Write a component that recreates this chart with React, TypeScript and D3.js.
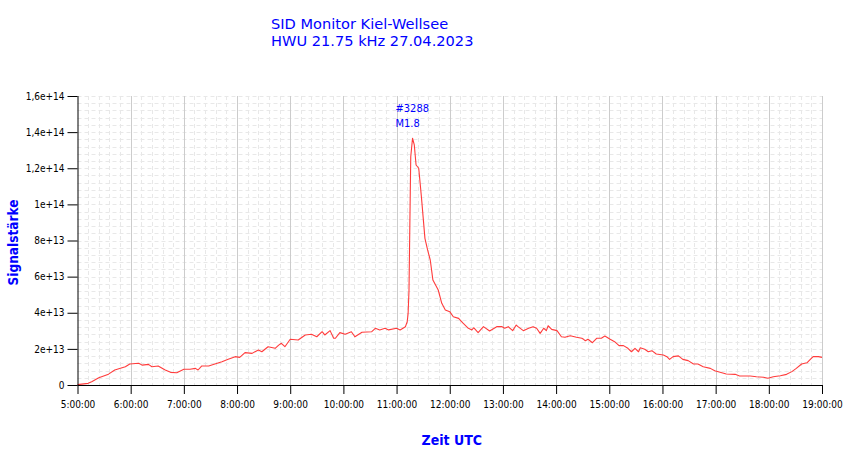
import React, { useEffect, useRef } from "react";
import * as d3 from "d3";

const DAY = "2023-04-27";
const titleLines = ["SID Monitor Kiel-Wellsee", "HWU 21.75 kHz 27.04.2023"];
const xAxisTitle = "Zeit UTC";
const yAxisTitle = "Signalstärke";
const flareLabel = ["#3288", "M1.8"];
const flareTime = "11:18";
const timeDomain = ["5:00", "19:00"];
const yMax = 1.6e14;
const yTickValues = [0, 2e13, 4e13, 6e13, 8e13, 1e14, 1.2e14, 1.4e14, 1.6e14];
const yTickLabels = ["0", "2e+13", "4e+13", "6e+13", "8e+13", "1e+14", "1,2e+14", "1,4e+14", "1,6e+14"];
const yMinorStep = 4e12;
const UNIT = 1e13;

const times = [
  "5:00", "5:12", "5:16", "5:24", "5:35", "5:42", "5:54", "5:59", "6:09", "6:13",
  "6:20", "6:24", "6:31", "6:39", "6:45", "6:52", "7:00", "7:07", "7:13", "7:16",
  "7:20", "7:28", "7:35", "7:43", "7:50", "7:58", "8:03", "8:09", "8:17", "8:24",
  "8:28", "8:35", "8:43", "8:47", "8:50", "8:54", "9:00", "9:09", "9:17", "9:24",
  "9:30", "9:36", "9:39", "9:45", "9:49", "9:51", "9:56", "10:02", "10:09", "10:13",
  "10:21", "10:32", "10:36", "10:41", "10:47", "10:51", "11:00", "11:04", "11:10", "11:12",
  "11:13", "11:14", "11:15", "11:16", "11:18", "11:20", "11:22", "11:25", "11:28", "11:32",
  "11:35", "11:38", "11:41", "11:47", "11:51", "11:55", "12:00", "12:04", "12:10", "12:15",
  "12:21", "12:25", "12:27", "12:32", "12:38", "12:45", "12:53", "12:59", "13:02", "13:06",
  "13:11", "13:15", "13:17", "13:23", "13:29", "13:34", "13:38", "13:42", "13:46", "13:49",
  "13:51", "13:55", "14:01", "14:06", "14:10", "14:16", "14:23", "14:29", "14:31", "14:33",
  "14:36", "14:41", "14:46", "14:51", "14:55", "15:01", "15:06", "15:11", "15:16", "15:21",
  "15:25", "15:29", "15:33", "15:35", "15:40", "15:44", "15:48", "15:53", "16:01", "16:05",
  "16:08", "16:12", "16:18", "16:23", "16:29", "16:35", "16:40", "16:46", "16:54", "16:59",
  "17:07", "17:12", "17:22", "17:27", "17:39", "17:46", "17:54", "17:59", "18:05", "18:13",
  "18:20", "18:26", "18:31", "18:37", "18:43", "18:46", "18:50", "18:56", "19:00",
];

const signalE13 = [
  0.02, 0.09, 0.18, 0.4, 0.6, 0.83, 1.01, 1.16, 1.2, 1.1,
  1.14, 1.01, 1.05, 0.83, 0.7, 0.68, 0.87, 0.87, 0.92, 0.83,
  1.05, 1.05, 1.16, 1.29, 1.42, 1.57, 1.53, 1.79, 1.75, 1.94,
  1.84, 2.12, 2.03, 2.21, 2.31, 2.12, 2.53, 2.49, 2.77, 2.81,
  2.67, 2.95, 2.77, 3.01, 2.59, 2.59, 2.9, 2.81, 2.95, 2.67,
  2.92, 2.95, 3.14, 3.05, 3.14, 3.05, 3.14, 3.05, 3.23, 3.5,
  3.95, 5.2, 8.95, 12.64, 13.66, 13.29, 12.18, 12.0, 10.43, 8.12,
  7.48, 6.92, 5.81, 5.26, 4.52, 4.15, 4.06, 3.78, 3.69, 3.42,
  3.14, 3.05, 3.17, 2.9, 3.23, 2.99, 3.23, 3.23, 3.14, 3.23,
  3.01, 3.32, 3.23, 3.01, 3.14, 3.23, 3.14, 2.86, 3.14, 3.01,
  3.28, 3.08, 3.01, 2.67, 2.64, 2.73, 2.64, 2.59, 2.53, 2.45,
  2.53, 2.34, 2.59, 2.59, 2.71, 2.53, 2.4, 2.18, 2.18, 2.03,
  1.84, 2.03, 1.84, 2.06, 1.98, 1.84, 1.9, 1.72, 1.66, 1.57,
  1.42, 1.57, 1.61, 1.42, 1.35, 1.16, 1.16, 1.01, 0.92, 0.79,
  0.68, 0.61, 0.59, 0.5, 0.5, 0.46, 0.43, 0.37, 0.46, 0.51,
  0.59, 0.74, 0.92, 1.16, 1.23, 1.38, 1.57, 1.57, 1.53,
];

const W = 850;
const H = 459;
const M = { left: 77.5, right: 28, top: 96, bottom: 74 };
const BLUE = "#0000ff";
const FONT = "'DejaVu Sans Condensed', 'DejaVu Sans', sans-serif";
const TITLE_FONT = "'DejaVu Sans', sans-serif";

const parse = (t: string) => d3.utcParse("%Y-%m-%d %H:%M")(`${DAY} ${t}`) as Date;

export default function App() {
  const ref = useRef<SVGSVGElement | null>(null);

  useEffect(() => {
    const svg = d3.select(ref.current);
    svg.selectAll("*").remove();

    const x = d3
      .scaleUtc()
      .domain(timeDomain.map(parse))
      .range([M.left, W - M.right]);
    const y = d3.scaleLinear().domain([0, yMax]).range([H - M.bottom, M.top]);

    const data = times.map((t, i) => ({ t: parse(t), v: signalE13[i] * UNIT }));

    const majorX = x.ticks(d3.utcHour.every(1) as d3.TimeInterval);
    const minorX = x.ticks(d3.utcMinute.every(12) as d3.TimeInterval);
    const minorY = d3.range(0, yMax + 1, yMinorStep);

    const grid = svg.append("g");
    grid
      .selectAll("line.hy")
      .data(minorY.filter((v) => v > 0))
      .join("line")
      .attr("x1", M.left)
      .attr("x2", W - M.right)
      .attr("y1", (d) => Math.round(y(d)) + 0.5)
      .attr("y2", (d) => Math.round(y(d)) + 0.5)
      .attr("stroke", "#e8e8e8")
      .attr("stroke-dasharray", "4,3");
    grid
      .selectAll("line.vx")
      .data(minorX.filter((d) => d.getUTCMinutes() !== 0))
      .join("line")
      .attr("x1", (d) => Math.round(x(d)) + 0.5)
      .attr("x2", (d) => Math.round(x(d)) + 0.5)
      .attr("y1", M.top)
      .attr("y2", H - M.bottom)
      .attr("stroke", "#e8e8e8")
      .attr("stroke-dasharray", "4,3");
    grid
      .selectAll("line.mx")
      .data(majorX.slice(1))
      .join("line")
      .attr("x1", (d) => Math.round(x(d)) + 0.5)
      .attr("x2", (d) => Math.round(x(d)) + 0.5)
      .attr("y1", M.top)
      .attr("y2", H - M.bottom)
      .attr("stroke", "#cccccc");

    // line
    const line = d3
      .line<{ t: Date; v: number }>()
      .x((d) => x(d.t))
      .y((d) => y(d.v));
    svg
      .append("path")
      .datum(data)
      .attr("d", line)
      .attr("fill", "none")
      .attr("stroke", "#ff3c3c")
      .attr("stroke-width", 1.1)
      .attr("stroke-linejoin", "round");

    // x axis
    const gx = svg.append("g").attr("transform", `translate(0,${H - M.bottom})`);
    gx.call(
      d3
        .axisBottom(x)
        .tickValues(minorX)
        .tickSize(5)
        .tickFormat(() => "")
    );
    gx.call(
      d3
        .axisBottom(x)
        .tickValues(majorX)
        .tickSize(9)
        .tickPadding(7)
        .tickFormat((d) => d3.utcFormat("%-H:%M:%S")(d as Date))
    );
    gx.selectAll("path.domain").attr("stroke", "#000").attr("d", `M${M.left},0.5H${W - M.right}`);
    gx.selectAll("line").attr("stroke", "#000");
    gx.selectAll("text").attr("font-family", FONT).attr("font-size", 10).attr("fill", "#000");

    // y axis
    const gy = svg.append("g").attr("transform", `translate(${M.left},0)`);
    gy.call(d3.axisLeft(y).tickValues(minorY).tickSize(6).tickFormat(() => ""));
    gy.call(
      d3
        .axisLeft(y)
        .tickValues(yTickValues)
        .tickSize(10)
        .tickPadding(3)
        .tickFormat((_, i) => yTickLabels[i])
    );
    gy.selectAll("path.domain").attr("stroke", "#000").attr("d", `M0.5,${M.top}V${H - M.bottom}`);
    gy.selectAll("line").attr("stroke", "#000");
    gy.selectAll("text").attr("font-family", FONT).attr("font-size", 10).attr("fill", "#000");

    // titles
    titleLines.forEach((t, i) => {
      svg
        .append("text")
        .attr("x", 271)
        .attr("y", 29 + i * 17)
        .attr("font-family", TITLE_FONT)
        .attr("font-size", 14.6)
        .attr("fill", BLUE)
        .text(t);
    });
    svg
      .append("text")
      .attr("x", (M.left + W - M.right) / 2 + 2)
      .attr("y", 445)
      .attr("text-anchor", "middle")
      .attr("font-family", FONT)
      .attr("font-weight", "bold")
      .attr("font-size", 14)
      .attr("fill", BLUE)
      .text(xAxisTitle);
    svg
      .append("text")
      .attr("transform", `translate(18,${(M.top + H - M.bottom) / 2 + 2}) rotate(-90)`)
      .attr("text-anchor", "middle")
      .attr("font-family", FONT)
      .attr("font-weight", "bold")
      .attr("font-size", 13.5)
      .attr("fill", BLUE)
      .text(yAxisTitle);

    // flare annotation
    const peak = data.reduce((a, b) => (b.v > a.v ? b : a));
    const px = x(parse(flareTime));
    flareLabel.forEach((t, i) => {
      svg
        .append("text")
        .attr("x", px - 17)
        .attr("y", y(peak.v) - 26 + i * 15)
        .attr("font-family", FONT)
        .attr("font-size", 11)
        .attr("fill", BLUE)
        .text(t);
    });
  }, []);

  return (
    <svg
      ref={ref}
      width={W}
      height={H}
      style={{ position: "absolute", left: 0, top: 0, background: "#fff" }}
    />
  );
}
